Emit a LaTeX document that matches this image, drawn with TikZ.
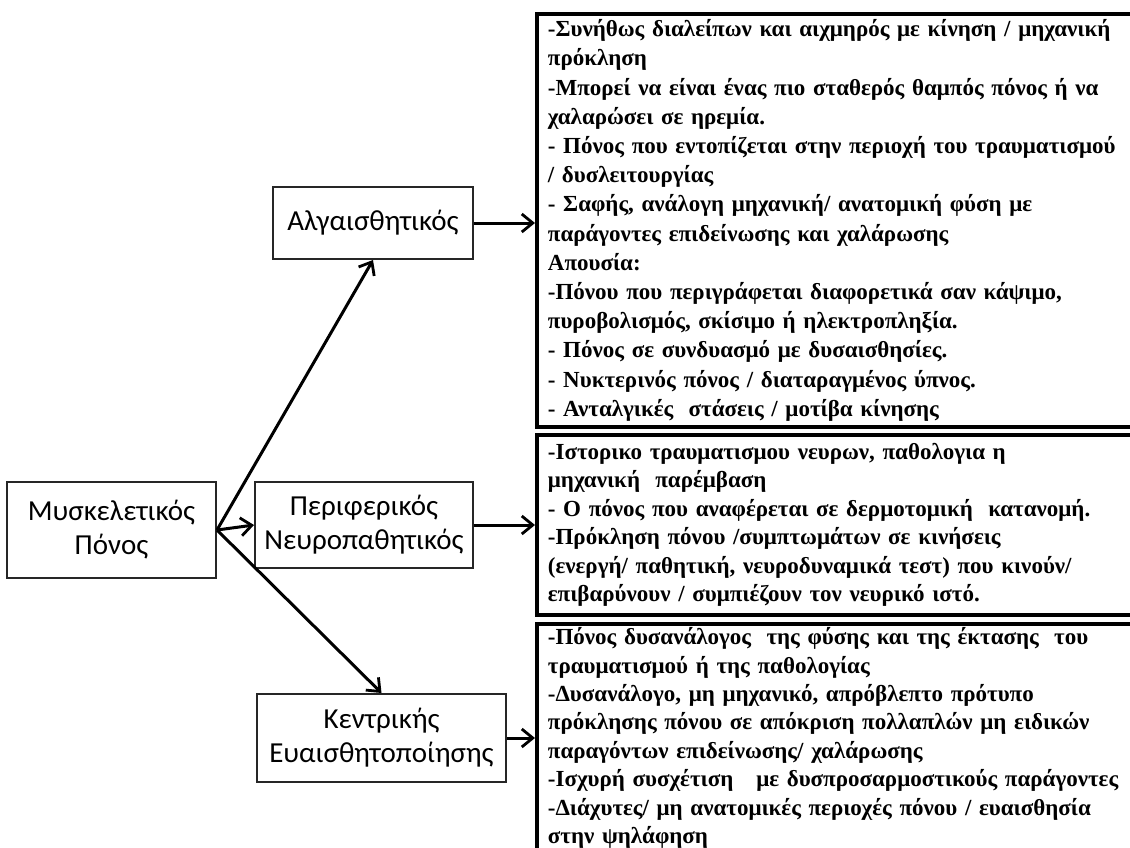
\documentclass[tikz,border=0pt]{standalone}
\usepackage{fontspec}
\setmainfont{Liberation Serif}
\newfontfamily\boxfont{Carlito}
\usetikzlibrary{arrows.meta, positioning}

\tikzstyle{catbox}  = [rectangle, draw=black!85, line width=2pt, fill=white,
                       align=center, inner sep=2pt,
                       font=\boxfont\fontsize{29}{34}\selectfont]
\tikzstyle{notebox} = [rectangle, draw=black, line width=3.8pt, anchor=north west,
                       minimum width=610pt, text width=590pt, align=left,
                       inner xsep=11pt, inner ysep=3pt,
                       font=\bfseries\fontsize{23}{28.4}\selectfont]
\tikzstyle{arrow}   = [-{Straight Barb[length=11pt, width=18pt, line width=2.8pt]},
                       line width=3pt, black]

\begin{document}
\begin{tikzpicture}[x=1pt, y=-1pt]
  \clip (0,0) rectangle (1130,847);
  \useasboundingbox (0,0) rectangle (1130,847);

  %% Pain types
  \node[catbox, minimum width=209pt, minimum height=96pt]
        (musk) at (111.5,530) {Μυσκελετικός\\Πόνος};
  \node[catbox, minimum width=200pt, minimum height=72pt]
        (alg) at (373,223) {Αλγαισθητικός};
  \node[catbox, minimum width=218pt, minimum height=86pt]
        (periph) at (364,525) {Περιφερικός\\Νευροπαθητικός};
  \node[catbox, minimum width=249pt, minimum height=88pt]
        (central) at (381.5,738) {Κεντρικής\\Ευαισθητοποίησης};

  %% Descriptions
  \node[notebox, minimum height=413pt, font=\bfseries\fontsize{23}{29.2}\selectfont]
        (algnote) at (535,12) {%
    -Συνήθως διαλείπων και αιχμηρός με κίνηση / μηχανική\\
    πρόκληση\\
    -Μπορεί να είναι ένας πιο σταθερός θαμπός πόνος ή να\\
    χαλαρώσει σε ηρεμία.\\
    - Πόνος που εντοπίζεται στην περιοχή του τραυματισμού\\
    / δυσλειτουργίας\\
    - Σαφής, ανάλογη μηχανική/ ανατομική φύση με\\
    παράγοντες επιδείνωσης και χαλάρωσης\\
    Απουσία:\\
    -Πόνου που περιγράφεται διαφορετικά σαν κάψιμο,\\
    πυροβολισμός, σκίσιμο ή ηλεκτροπληξία.\\
    - Πόνος σε συνδυασμό με δυσαισθησίες.\\
    - Νυκτερινός πόνος / διαταραγμένος ύπνος.\\
    - Ανταλγικές\ \ στάσεις / μοτίβα κίνησης};

  \node[notebox, minimum height=180pt] (periphnote) at (535,433) {%
    -Ιστορικο τραυματισμου νευρων, παθολογια η\\
    μηχανική\ \ παρέμβαση\\
    - Ο πόνος που αναφέρεται σε δερμοτομική\ \ κατανομή.\\
    -Πρόκληση πόνου /συμπτωμάτων σε κινήσεις\\
    (ενεργή/ παθητική, νευροδυναμικά τεστ) που κινούν/\\
    επιβαρύνουν / συμπιέζουν τον νευρικό ιστό.};

  \node[notebox, minimum height=228pt] (centralnote) at (535,622) {%
    -Πόνος δυσανάλογος\ \ της φύσης και της έκτασης\ \ του\\
    τραυματισμού ή της παθολογίας\\
    -Δυσανάλογο, μη μηχανικό, απρόβλεπτο πρότυπο\\
    πρόκλησης πόνου σε απόκριση πολλαπλών μη ειδικών\\
    παραγόντων επιδείνωσης/ χαλάρωσης\\
    -Ισχυρή συσχέτιση\ \ \ με δυσπροσαρμοστικούς παράγοντες\\
    -Διάχυτες/ μη ανατομικές περιοχές πόνου / ευαισθησία\\
    στην ψηλάφηση};

  %% Arrows
  \draw[arrow] (musk.east) -- (alg.south);
  \draw[arrow] (musk.east) -- (periph.west);
  \draw[arrow] (musk.east) -- (central.north);
  \draw[arrow] (alg.east) -- (alg.east -| algnote.west);
  \draw[arrow] (periph.east) -- (periph.east -| periphnote.west);
  \draw[arrow] (central.east) -- (central.east -| centralnote.west);

\end{tikzpicture}
\end{document}
